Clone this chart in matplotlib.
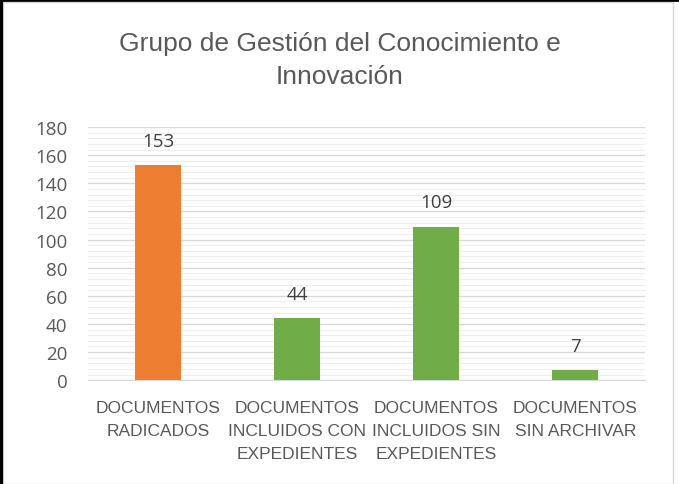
import matplotlib
matplotlib.use("Agg")
from matplotlib import pyplot as plt
from matplotlib.patches import Rectangle
import numpy as np

categories = ["DOCUMENTOS\nRADICADOS", "DOCUMENTOS\nINCLUIDOS CON\nEXPEDIENTES",
              "DOCUMENTOS\nINCLUIDOS SIN\nEXPEDIENTES", "DOCUMENTOS\nSIN ARCHIVAR"]
values = [153, 44, 109, 7]
bar_colors = ["#ED7D31", "#70AD47", "#70AD47", "#70AD47"]
y_ticks = list(range(0, 181, 20))

narrow = ["Liberation Sans Narrow", "Liberation Sans", "DejaVu Sans"]
text_col = "#595959"

fig = plt.figure(figsize=(6.79, 4.85), dpi=100)
ax = fig.add_axes([0.13, 0.214, 0.82, 0.522])

x = np.arange(len(categories))
ax.bar(x, values, width=0.33, color=bar_colors, zorder=3)
for xi, v in zip(x, values):
    ax.text(xi, v + 11, str(v), ha="center", va="bottom", fontsize=13.5,
            color="#404040", family=["Open Sans", "DejaVu Sans"])

ax.set_ylim(0, 180)
ax.set_xlim(-0.5, 3.5)
ax.set_yticks(y_ticks)
ax.set_yticks(np.arange(0, 181, 4), minor=True)
ax.yaxis.grid(True, which="major", color="#D9D9D9", linewidth=1.0, zorder=0)
ax.yaxis.grid(True, which="minor", color="#EDEDED", linewidth=0.8, zorder=0)
ax.tick_params(axis="y", which="both", length=0, labelsize=13.5, labelcolor=text_col, pad=15)
for lab in ax.get_yticklabels():
    lab.set_family(["Open Sans", "DejaVu Sans"])
ax.set_xticks(x)
ax.set_xticklabels(categories, fontsize=12.5, color=text_col, family=narrow, linespacing=1.7)
ax.tick_params(axis="x", length=0, pad=14)
for s in ["top", "right", "left"]:
    ax.spines[s].set_visible(False)
ax.spines["bottom"].set_color("#D9D9D9")

fig.text(0.5, 0.935, "Grupo de Gestión del Conocimiento e\nInnovación", ha="center", va="top",
         fontsize=19, color=text_col, family=narrow, linespacing=1.5)

# outer frame
fig.patches.append(Rectangle((0.005, 0.0), 0.986, 0.993, transform=fig.transFigure,
                             fill=False, edgecolor="#D9D9D9", linewidth=1))
fig.add_artist(plt.Line2D([0.002, 0.002], [0, 1], color="black", linewidth=3, transform=fig.transFigure))
fig.add_artist(plt.Line2D([0, 1], [0.998, 0.998], color="black", linewidth=2, transform=fig.transFigure))

fig.savefig("out.png", dpi=100)
